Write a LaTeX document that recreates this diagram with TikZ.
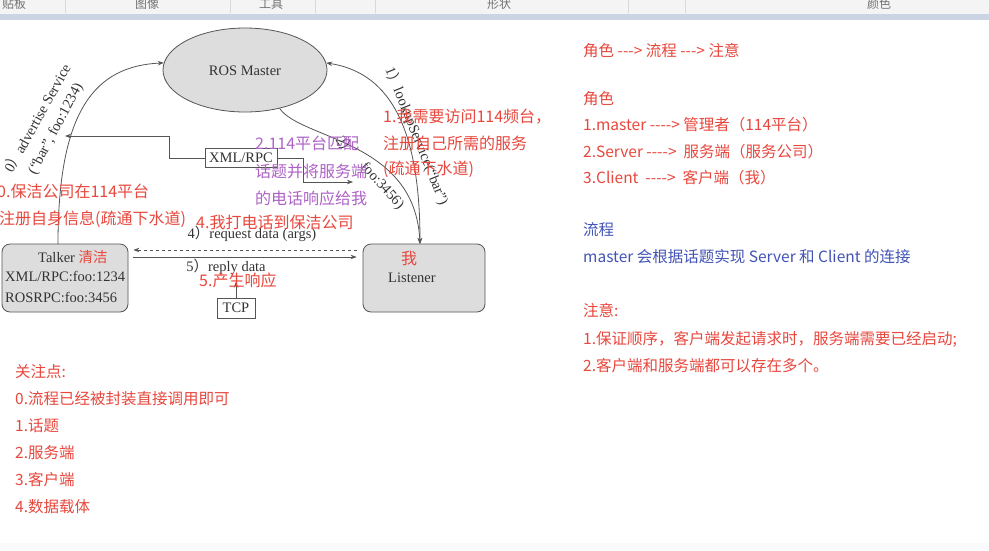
\documentclass[tikz,border=0pt]{standalone}
\usepackage{fontspec}
\setmainfont{Liberation Serif}
\newfontfamily\cjk{Noto Sans CJK SC}
\usetikzlibrary{shapes.geometric,arrows.meta}
\definecolor{notered}{HTML}{E8473D}
\definecolor{notepurple}{HTML}{AE62C6}
\definecolor{noteblue}{HTML}{4253B5}
\definecolor{boxgray}{HTML}{DDDDDD}
\definecolor{linegray}{HTML}{555555}
\definecolor{toolbg}{HTML}{F4F4F4}
\definecolor{bandblue}{HTML}{CAD4E3}
\providecommand{\hy}{-\kern0pt}
\tikzset{
  wire/.style={draw=linegray,line width=0.8pt},
  arr/.style={-{Stealth[length=6pt,width=4.5pt]}},
  proc/.style={draw=linegray,fill=boxgray,rounded corners=8pt,minimum width=126pt,minimum height=68pt,line width=0.8pt},
  tag/.style={text=black!80,font=\fontsize{14.5}{17}\selectfont,inner sep=0pt},
  note/.style={anchor=west,inner sep=0pt,text=notered,font=\cjk\fontsize{16}{19}\selectfont},
  pane/.style={anchor=west,inner sep=0pt,text=notered,font=\cjk\fontsize{15.5}{18}\selectfont},
}

\begin{document}
\begin{tikzpicture}[x=1pt,y=-1pt]
\useasboundingbox (0,0) rectangle (989,550);
\fill[white] (0,0) rectangle (989,550);
\fill[toolbg] (0,0) rectangle (989,14);
\fill[bandblue] (0,14) rectangle (989,20);
\fill[black!2] (0,543) rectangle (989,550);
\foreach \x in {65,230,315,375,628,685} \draw[black!15] (\x,0) -- (\x,13);
\begin{scope}
\clip (0,0) rectangle (989,13);
\foreach \x/\t [count=\i] in {14/贴板,147/图像,271/工具,499/形状,879/颜色}
  \node[inner sep=0pt,text=black!55,font=\cjk\fontsize{12}{14}\selectfont] (tb\i) at (\x,4) {\t};
\end{scope}

\node[ellipse,draw=linegray,fill=boxgray,line width=0.8pt,minimum width=164pt,minimum height=84pt] (master) at (245,70) {};
\node[tag] (mastername) at (245,71) {ROS Master};
\node[proc] (talker) at (65,278) {};
\node[proc,minimum width=122pt] (listener) at (424,278) {};
\node[tag,anchor=west] (talkname) at (38,257) {Talker {\cjk\color{notered}清洁}};
\node[tag,anchor=west] (talkxml) at (5,276) {XML/RPC:foo:1234};
\node[tag,anchor=west] (talkros) at (5,297) {ROSRPC:foo:3456};
\node[inner sep=0pt,text=notered,font=\cjk\fontsize{16}{19}\selectfont] (me) at (409,259) {我};
\node[tag] (listname) at (412,278) {Listener};
\node[tag,draw=linegray,line width=0.6pt,minimum width=72pt,minimum height=19pt] (xmlrpc) at (241,158) {XML/RPC};
\node[tag,draw=linegray,line width=0.6pt,minimum width=38pt,minimum height=20pt] (tcp) at (236,308) {TCP};

\coordinate (adv) at (58,244);
\coordinate (look) at (420,244);
\coordinate (xmlL) at (65,136);
\coordinate (xmlR) at (353,182);
\draw[wire,arr] (adv) .. controls (58,110) and (95,66) .. (master.175);
\draw[wire,{Stealth[length=6pt,width=4.5pt]}-{Stealth[length=6pt,width=4.5pt]}] (master.5) .. controls (385,72) and (420,120) .. (look);
\draw[wire,arr] (master.-48) .. controls (302,140) and (415,140) .. (look);
\draw[wire,arr] (xmlrpc.west) -- ++(-35,0) |- (xmlL);
\draw[wire,arr] (xmlrpc.east) -- ++(26,0) |- (xmlR);
\draw[wire,arr,dashed] ([xshift=-6pt,yshift=28pt]listener.west) -- ([xshift=5pt,yshift=28pt]talker.east);
\draw[wire,arr] ([xshift=5pt,yshift=21pt]talker.east) -- ([xshift=-6pt,yshift=21pt]listener.west);
\draw[wire,arr] (tcp.north) -- ++(0,-16);

\node[tag,rotate=61] (adv1) at (37,118) {0{\cjk ）}advertise Service};
\node[tag,rotate=62] (adv2) at (56,129) {(“bar”, foo:1234)};
\node[tag,rotate=-68] (look1) at (417,136) {1{\cjk ）}lookupService(“bar”)};
\node[tag,rotate=-55] (find1) at (346,146) {2{\cjk ）}};
\node[tag,rotate=-48] (find2) at (382,186) {foo:3456)};
\node[tag] (req) at (252,234) {4{\cjk ）}request data (args)};
\node[tag] (rep) at (226,267) {5{\cjk ）}reply data};

\node[note] (n0a) at (-3,191) {0.保洁公司在114平台};
\node[note] (n0b) at (-1,219) {注册自身信息(疏通下水道)};
\node[note] (n1a) at (383,117) {1.我需要访问114频台，};
\node[note] (n1b) at (383,143) {注册自己所需的服务};
\node[note] (n1c) at (383,169) {(疏通下水道)};
\node[note,text=notepurple] (n2a) at (255,143) {2.114平台匹配};
\node[note,text=notepurple] (n2b) at (255,171) {话题并将服务端};
\node[note,text=notepurple] (n2c) at (255,198) {的电话响应给我};
\node[note] (n4) at (196,222) {4.我打电话到保洁公司};
\node[note] (n5) at (199,280) {5.产生响应};

\node[pane] (r1) at (583,51) {角色 \hy\hy\hy> 流程 \hy\hy\hy> 注意};
\node[pane] (r2) at (583,99) {角色};
\node[pane] (r3) at (583,125) {1.master \hy\hy\hy\hy> 管理者（114平台）};
\node[pane] (r4) at (583,152) {2.Server \hy\hy\hy\hy>\ \ 服务端（服务公司）};
\node[pane] (r5) at (583,178) {3.Client\ \ \hy\hy\hy\hy>\ \ 客户端（我）};
\node[pane,text=noteblue] (r6) at (583,230) {流程};
\node[pane,text=noteblue] (r7) at (583,257) {master 会根据话题实现 Server 和 Client 的连接};
\node[pane] (r8) at (583,310) {注意:};
\node[pane] (r9) at (583,339) {1.保证顺序，客户端发起请求时，服务端需要已经启动;};
\node[pane] (r10) at (583,366) {2.客户端和服务端都可以存在多个。};

\node[pane] (f1) at (15,372) {关注点:};
\node[pane] (f2) at (15,399) {0.流程已经被封装直接调用即可};
\node[pane] (f3) at (15,426) {1.话题};
\node[pane] (f4) at (15,453) {2.服务端};
\node[pane] (f5) at (15,480) {3.客户端};
\node[pane] (f6) at (15,507) {4.数据载体};
\end{tikzpicture}
\end{document}
